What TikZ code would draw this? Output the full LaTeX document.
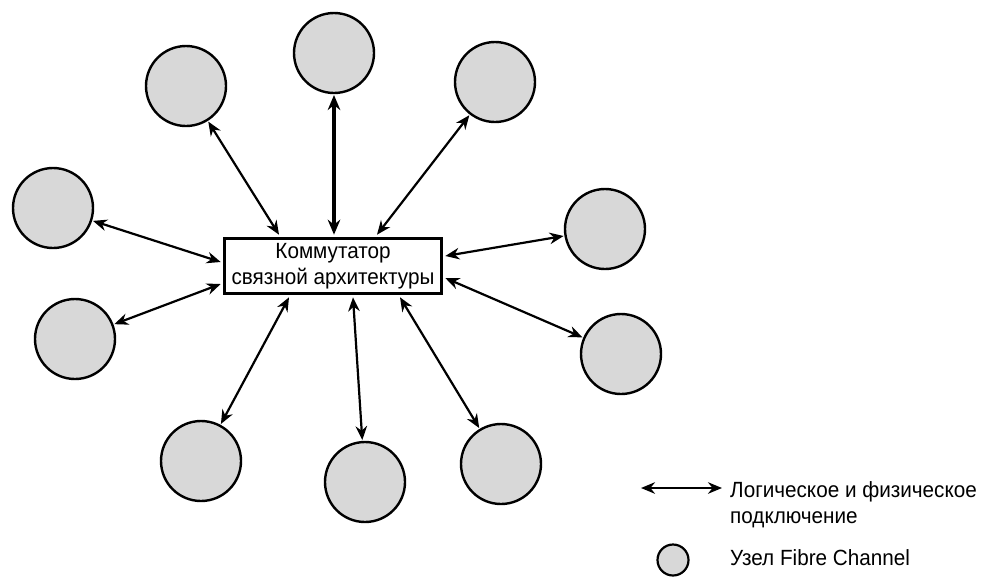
\documentclass[tikz,border=0pt]{standalone}
\usepackage{fontspec}
\setmainfont{Liberation Sans}[FakeStretch=0.94]
\usetikzlibrary{arrows.meta}
\definecolor{nodegray}{HTML}{D8D8D8}
\begin{document}
\begin{tikzpicture}[x=1pt,y=-1pt,
  fcnode/.style={circle,draw=black,line width=2.4pt,fill=nodegray,
    minimum size=80pt,inner sep=0pt,outer sep=2pt},
  switchbox/.style={draw=black,line width=3.6pt,fill=white,
    minimum width=217pt,minimum height=55pt,inner sep=0pt,
    font=\fontsize{22}{25.5}\selectfont,align=center},
  link/.style={line width=2.2pt,{Stealth[length=14pt,width=11.5pt]}-{Stealth[length=14pt,width=11.5pt]}},
  biglink/.style={line width=3.5pt,{Stealth[length=15pt,width=12.5pt]}-{Stealth[length=15pt,width=12.5pt]}},
  legendtext/.style={font=\fontsize{22}{26}\selectfont,align=left,anchor=base west,inner sep=0pt}]
\useasboundingbox (0,0) rectangle (984,576);

% central switch
\node[switchbox] (sw) at (333,266) {Коммутатор\\связной архитектуры};

% Fibre Channel nodes
\node[fcnode] (top) at (334,53) {};
\node[fcnode] (ul)  at (186,86) {};
\node[fcnode] (ur)  at (495,82) {};
\node[fcnode] (l)   at (53,208) {};
\node[fcnode] (ll)  at (75,339) {};
\node[fcnode] (r)   at (605,229) {};
\node[fcnode] (rl)  at (621,354) {};
\node[fcnode] (bl)  at (201,461) {};
\node[fcnode] (b)   at (365,482) {};
\node[fcnode] (br)  at (501,464) {};

% links between nodes and the switch
\draw[biglink] (top) -- ([xshift=1pt,yshift=2pt]sw.north);
\draw[link] (ul) -- ([xshift=-54pt,yshift=2pt]sw.north);
\draw[link] (ur) -- ([xshift=44pt,yshift=2pt]sw.north);
\draw[link] (l)  -- ([xshift=-2pt,yshift=4pt]sw.west);
\draw[link] (ll) -- ([xshift=-2pt,yshift=-18pt]sw.west);
\draw[link] (r)  -- ([xshift=2pt,yshift=10pt]sw.east);
\draw[link] (rl) -- ([xshift=2pt,yshift=-12pt]sw.east);
\draw[link] (bl) -- ([xshift=-44pt,yshift=-2pt]sw.south);
\draw[link] (b)  -- ([xshift=20pt,yshift=-2pt]sw.south);
\draw[link] (br) -- ([xshift=67pt,yshift=-2pt]sw.south);

% legend (base anchor of a two-line node sits on its last line)
\coordinate (la) at (641,488);
\coordinate (lb) at (722,488);
\draw[link] (la) -- (lb);
\node[legendtext] (ltxt) at (730,523) {Логическое и физическое\\подключение};
\node[fcnode,minimum size=31pt,line width=2.2pt] (lnode) at (673,560) {};
\node[legendtext] (ntxt) at (730,565) {Узел Fibre Channel};
\end{tikzpicture}
\end{document}
